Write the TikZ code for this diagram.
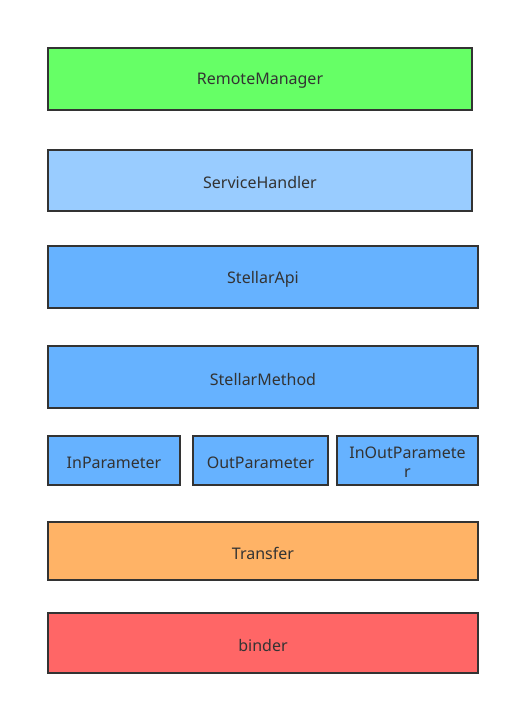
\documentclass[tikz,border=0pt]{standalone}
\usepackage{fontspec}
\setmainfont{Noto Sans}
\definecolor{edge}{HTML}{333333}
\definecolor{cgreen}{HTML}{66FF66}
\definecolor{clight}{HTML}{99CCFF}
\definecolor{cblue}{HTML}{66B2FF}
\definecolor{corange}{HTML}{FFB366}
\definecolor{cred}{HTML}{FF6666}
\begin{document}
\begin{tikzpicture}[x=1pt,y=-1pt,
  layer/.style={draw=edge,line width=2pt},
  label/.style={text=edge,font=\fontsize{16}{19}\selectfont,align=center,inner sep=0pt,yshift=-2pt}]
\useasboundingbox (0,0) rectangle (510,706);
\fill[white] (0,0) rectangle (510,706);
\newcommand{\layerbox}[6]{%
  \draw[layer,fill=#6] (#2,#3) rectangle (#4,#5);
  \node[label] (#1) at ({(#2+#4)/2},{(#3+#5)/2}) {\csname txt#1\endcsname};}
\def\txtrm{RemoteManager}
\def\txtsh{ServiceHandler}
\def\txtsa{StellarApi}
\def\txtsm{StellarMethod}
\def\txtip{InParameter}
\def\txtop{OutParameter}
\def\txtiop{InOutParamete\\r}
\def\txttr{Transfer}
\def\txtbd{binder}
\layerbox{rm}{48}{48}{472}{110}{cgreen}
\layerbox{sh}{48}{150}{472}{211}{clight}
\layerbox{sa}{48}{246}{478}{308}{cblue}
\layerbox{sm}{48}{346}{478}{408}{cblue}
\layerbox{ip}{48}{436}{180}{485}{cblue}
\layerbox{op}{193}{436}{328}{485}{cblue}
\layerbox{iop}{337}{436}{478}{485}{cblue}
\layerbox{tr}{48}{522}{478}{580}{corange}
\layerbox{bd}{48}{613}{478}{673}{cred}
\end{tikzpicture}
\end{document}
